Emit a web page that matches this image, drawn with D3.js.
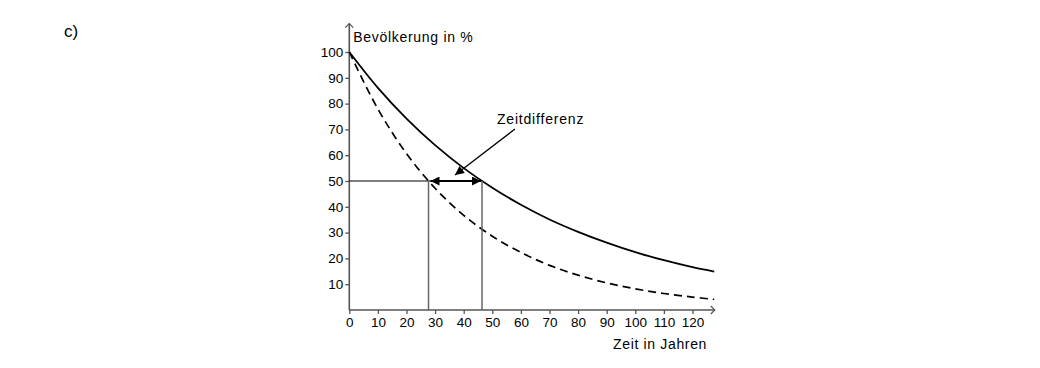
<!DOCTYPE html>
<html><head><meta charset="utf-8">
<script src="https://cdn.jsdelivr.net/npm/d3@7"></script>
<style>body{margin:0;background:#fff}svg{display:block;font-family:"Liberation Sans",Arial,sans-serif}</style>
</head><body><svg id="c" width="1040" height="368"></svg>
<script>
// Data
const years = [0,10,20,30,40,50,60,70,80,90,100,110,120,127.6];
const popSolid  = [100,86.1,74.2,63.9,55.0,47.4,40.8,35.1,30.3,26.1,22.4,19.3,16.6,14.9];
const popDashed = [100,77.9,60.6,47.2,36.7,28.6,22.3,17.3,13.5,10.5,8.2,6.4,5.0,4.1];
const halfLevel = 50;
const halfTimeDashed = 27.7;
const halfTimeSolid = 46.4;
const xTicks = [0,10,20,30,40,50,60,70,80,90,100,110,120];
const yTicks = [10,20,30,40,50,60,70,80,90,100];
const xLabel = "Zeit in Jahren";
const yLabel = "Bevölkerung in %";
const noteLabel = "Zeitdifferenz";
const partLabel = "c)";

const svg = d3.select("#c");
const x = d3.scaleLinear().domain([0,120]).range([349.3,692.5]);
const y = d3.scaleLinear().domain([0,100]).range([310,52]);
const axisCol = "#555";
const FF = "Liberation Sans, Arial, sans-serif";

const defs = svg.append("defs");
defs.append("marker").attr("id","ah").attr("viewBox","0 0 10 10").attr("refX",10).attr("refY",5)
  .attr("markerWidth",13).attr("markerHeight",9).attr("markerUnits","userSpaceOnUse").attr("orient","auto-start-reverse")
  .append("path").attr("d","M0,0L10,5L0,10Z").attr("fill","#000");
defs.append("marker").attr("id","ap").attr("viewBox","0 0 10 10").attr("refX",10).attr("refY",5)
  .attr("markerWidth",13).attr("markerHeight",9).attr("markerUnits","userSpaceOnUse").attr("orient","auto")
  .append("path").attr("d","M0,0L10,5L0,10Z").attr("fill","#000");

// part label
svg.append("text").attr("x",64).attr("y",37).attr("font-size",17).text(partLabel);

// axes
const gx = svg.append("g").attr("transform",`translate(0,${y(0)})`)
  .call(d3.axisBottom(x).tickValues(xTicks).tickSize(4).tickSizeOuter(0).tickPadding(3));
gx.select(".domain").remove();
gx.selectAll(".tick line").attr("stroke",axisCol).attr("stroke-width",1.3);
gx.selectAll(".tick text").attr("font-size",13.5).attr("fill","#000").attr("font-family",FF);
const gy = svg.append("g").attr("transform",`translate(${x(0)},0)`)
  .call(d3.axisLeft(y).tickValues(yTicks).tickSize(4).tickSizeOuter(0).tickPadding(2));
gy.select(".domain").remove();
gy.selectAll(".tick line").attr("stroke",axisCol).attr("stroke-width",1.3);
gy.selectAll(".tick text").attr("font-size",13.5).attr("fill","#000").attr("font-family",FF);

// axis lines with open arrowheads
const xEnd = x(127.8), yEnd = y(111);
svg.append("line").attr("x1",x(0)).attr("x2",xEnd).attr("y1",y(0)).attr("y2",y(0)).attr("stroke",axisCol).attr("stroke-width",1.6);
svg.append("path").attr("d",`M${xEnd-4},${y(0)-4}L${xEnd},${y(0)}L${xEnd-4},${y(0)+4}`).attr("fill","none").attr("stroke",axisCol).attr("stroke-width",1.2);
svg.append("line").attr("x1",x(0)).attr("x2",x(0)).attr("y1",y(0)).attr("y2",yEnd).attr("stroke",axisCol).attr("stroke-width",1.6);
svg.append("path").attr("d",`M${x(0)-4},${yEnd+4}L${x(0)},${yEnd}L${x(0)+4},${yEnd+4}`).attr("fill","none").attr("stroke",axisCol).attr("stroke-width",1.2);

svg.append("text").attr("x",x(0)+4).attr("y",42).attr("font-size",14).attr("letter-spacing",0.7).text(yLabel);
svg.append("text").attr("x",707).attr("y",349).attr("text-anchor","end").attr("font-size",14).attr("letter-spacing",0.65).text(xLabel);

// curves
const line = d3.line().x((d,i)=>x(years[i])).y(d=>y(d)).curve(d3.curveCatmullRom);
svg.append("path").attr("d",line(popSolid)).attr("fill","none").attr("stroke","#000").attr("stroke-width",1.8);
svg.append("path").attr("d",line(popDashed)).attr("fill","none").attr("stroke","#000").attr("stroke-width",1.7).attr("stroke-dasharray","8,5");

// guide lines
svg.append("line").attr("x1",x(0)).attr("x2",x(halfTimeSolid)).attr("y1",y(halfLevel)).attr("y2",y(halfLevel)).attr("stroke","#000").attr("stroke-width",1.2);
[halfTimeDashed,halfTimeSolid].forEach(t=>{
  svg.append("line").attr("x1",x(t)).attr("x2",x(t)).attr("y1",y(0)).attr("y2",y(halfLevel)).attr("stroke","#666").attr("stroke-width",1.5);
});
// double arrow
svg.append("line").attr("x1",x(halfTimeDashed)+2).attr("x2",x(halfTimeSolid)-1).attr("y1",y(halfLevel)).attr("y2",y(halfLevel))
  .attr("stroke","#000").attr("stroke-width",2.2).attr("marker-start","url(#ah)").attr("marker-end","url(#ah)");

// annotation
svg.append("text").attr("x",497).attr("y",124).attr("font-size",14).attr("letter-spacing",0.8).text(noteLabel);
svg.append("line").attr("x1",515).attr("y1",129).attr("x2",455).attr("y2",175)
  .attr("stroke","#000").attr("stroke-width",1.3).attr("marker-end","url(#ap)");
</script></body></html>
